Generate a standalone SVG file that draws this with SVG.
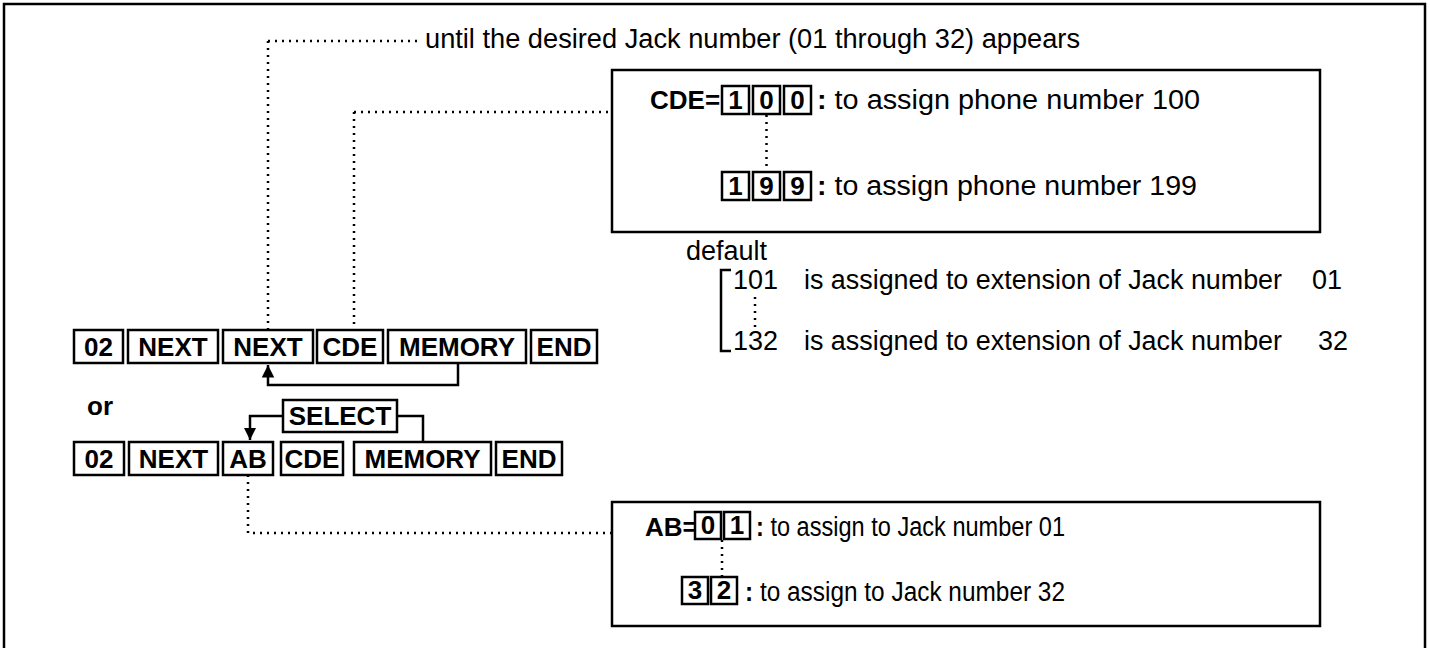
<svg xmlns="http://www.w3.org/2000/svg" width="1430" height="648" viewBox="0 0 1430 648">
<style>
.t{font-family:"Liberation Sans",Arial,sans-serif;font-size:27px;fill:#000}
.b{font-family:"Liberation Sans",Arial,sans-serif;font-size:26px;font-weight:bold;fill:#000}
.k{fill:#fff;stroke:#000;stroke-width:2.5}
.frame{fill:none;stroke:#000;stroke-width:2.5}
.dot{fill:none;stroke:#000;stroke-width:2.5;stroke-dasharray:2 5}
.ln{fill:none;stroke:#000;stroke-width:2.5}
</style>
<defs>
<marker id="ah" viewBox="0 0 10 10" refX="10" refY="5" markerWidth="5" markerHeight="6" orient="auto" markerUnits="strokeWidth">
<path d="M0,0 L10,5 L0,10 z" fill="#000"/>
</marker>
</defs>
<rect x="0" y="0" width="1430" height="648" fill="#fff"/>
<rect class="frame" x="4" y="4" width="1421" height="700"/>

<g id="connectors">
<path class="dot" d="M268,41 H420"/>
<path class="dot" d="M268,41 V330"/>
<path class="dot" d="M354,112 H612"/>
<path class="dot" d="M354,112 V330"/>
<path class="dot" d="M248,475 V533 H612"/>
<path class="ln" d="M458,363 V385 H268 V365" marker-end="url(#ah)"/>
<path class="ln" d="M283,416 H250 V440" marker-end="url(#ah)"/>
<path class="ln" d="M397,416 H423 V442"/>
</g>

<g id="note-top">
<text class="t" x="425" y="48" font-size="26" textLength="655" lengthAdjust="spacingAndGlyphs">until the desired Jack number (01 through 32) appears</text>
</g>

<g id="box-cde">
<rect class="frame" x="612" y="70" width="708" height="162"/>
<text class="b" x="650" y="109">CDE=</text>
<rect class="k" x="722" y="86" width="27" height="28"/>
<rect class="k" x="753" y="86" width="27" height="28"/>
<rect class="k" x="784" y="86" width="27" height="28"/>
<text class="b" x="735.5" y="109" text-anchor="middle">1</text>
<text class="b" x="766.5" y="109" text-anchor="middle">0</text>
<text class="b" x="797.5" y="109" text-anchor="middle">0</text>
<text class="t" x="817" y="109" textLength="383" lengthAdjust="spacingAndGlyphs"><tspan font-weight="bold">:</tspan> to assign phone number 100</text>
<path class="dot" d="M766.5,115 V171"/>
<rect class="k" x="722" y="172" width="27" height="28"/>
<rect class="k" x="753" y="172" width="27" height="28"/>
<rect class="k" x="784" y="172" width="27" height="28"/>
<text class="b" x="735.5" y="195" text-anchor="middle">1</text>
<text class="b" x="766.5" y="195" text-anchor="middle">9</text>
<text class="b" x="797.5" y="195" text-anchor="middle">9</text>
<text class="t" x="817" y="195" textLength="380" lengthAdjust="spacingAndGlyphs"><tspan font-weight="bold">:</tspan> to assign phone number 199</text>
</g>

<g id="default-note">
<text class="t" x="686" y="260">default</text>
<path class="ln" d="M731,270 H721 V351 H731"/>
<text class="t" x="733" y="289">101</text>
<path class="dot" d="M755,297 V328"/>
<text class="t" x="733" y="350">132</text>
<text class="t" x="804" y="289" textLength="478" lengthAdjust="spacingAndGlyphs">is assigned to extension of Jack number</text>
<text class="t" x="1312" y="289">01</text>
<text class="t" x="804" y="350" textLength="478" lengthAdjust="spacingAndGlyphs">is assigned to extension of Jack number</text>
<text class="t" x="1318" y="350">32</text>
</g>

<g id="row1">
<rect class="k" x="74" y="330" width="49" height="33"/><text class="b" x="98.5" y="356" text-anchor="middle">02</text>
<rect class="k" x="128" y="330" width="90" height="33"/><text class="b" x="173" y="356" text-anchor="middle">NEXT</text>
<rect class="k" x="223" y="330" width="90" height="33"/><text class="b" x="268" y="356" text-anchor="middle">NEXT</text>
<rect class="k" x="317" y="330" width="66" height="33"/><text class="b" x="350" y="356" text-anchor="middle">CDE</text>
<rect class="k" x="388" y="330" width="138" height="33"/><text class="b" x="457" y="356" text-anchor="middle">MEMORY</text>
<rect class="k" x="531" y="330" width="66" height="33"/><text class="b" x="564" y="356" text-anchor="middle">END</text>
</g>

<g id="or-label">
<text class="b" x="87" y="415">or</text>
</g>

<g id="select">
<rect class="k" x="283" y="400" width="114" height="32"/><text class="b" x="340" y="425" text-anchor="middle">SELECT</text>
</g>

<g id="row2">
<rect class="k" x="74" y="442" width="50" height="33"/><text class="b" x="99" y="468" text-anchor="middle">02</text>
<rect class="k" x="129" y="442" width="89" height="33"/><text class="b" x="173.5" y="468" text-anchor="middle">NEXT</text>
<rect class="k" x="223" y="442" width="50" height="33"/><text class="b" x="248" y="468" text-anchor="middle">AB</text>
<rect class="k" x="281" y="442" width="62" height="33"/><text class="b" x="312" y="468" text-anchor="middle">CDE</text>
<rect class="k" x="354" y="442" width="137" height="33"/><text class="b" x="422.5" y="468" text-anchor="middle">MEMORY</text>
<rect class="k" x="496" y="442" width="66" height="33"/><text class="b" x="529" y="468" text-anchor="middle">END</text>
</g>

<g id="box-ab">
<rect class="frame" x="612" y="502" width="708" height="124"/>
<text class="b" x="645" y="536">AB=</text>
<rect class="k" x="695" y="512" width="26" height="27"/>
<rect class="k" x="724" y="512" width="26" height="27"/>
<text class="b" x="708" y="534" text-anchor="middle">0</text>
<text class="b" x="737" y="534" text-anchor="middle">1</text>
<text class="t" x="756" y="536" textLength="309" lengthAdjust="spacingAndGlyphs"><tspan font-weight="bold">:</tspan> to assign to Jack number 01</text>
<path class="dot" d="M722,540 V576"/>
<rect class="k" x="682" y="577" width="26" height="27"/>
<rect class="k" x="711" y="577" width="26" height="27"/>
<text class="b" x="695" y="599" text-anchor="middle">3</text>
<text class="b" x="724" y="599" text-anchor="middle">2</text>
<text class="t" x="745" y="601" textLength="320" lengthAdjust="spacingAndGlyphs"><tspan font-weight="bold">:</tspan> to assign to Jack number 32</text>
</g>
</svg>
